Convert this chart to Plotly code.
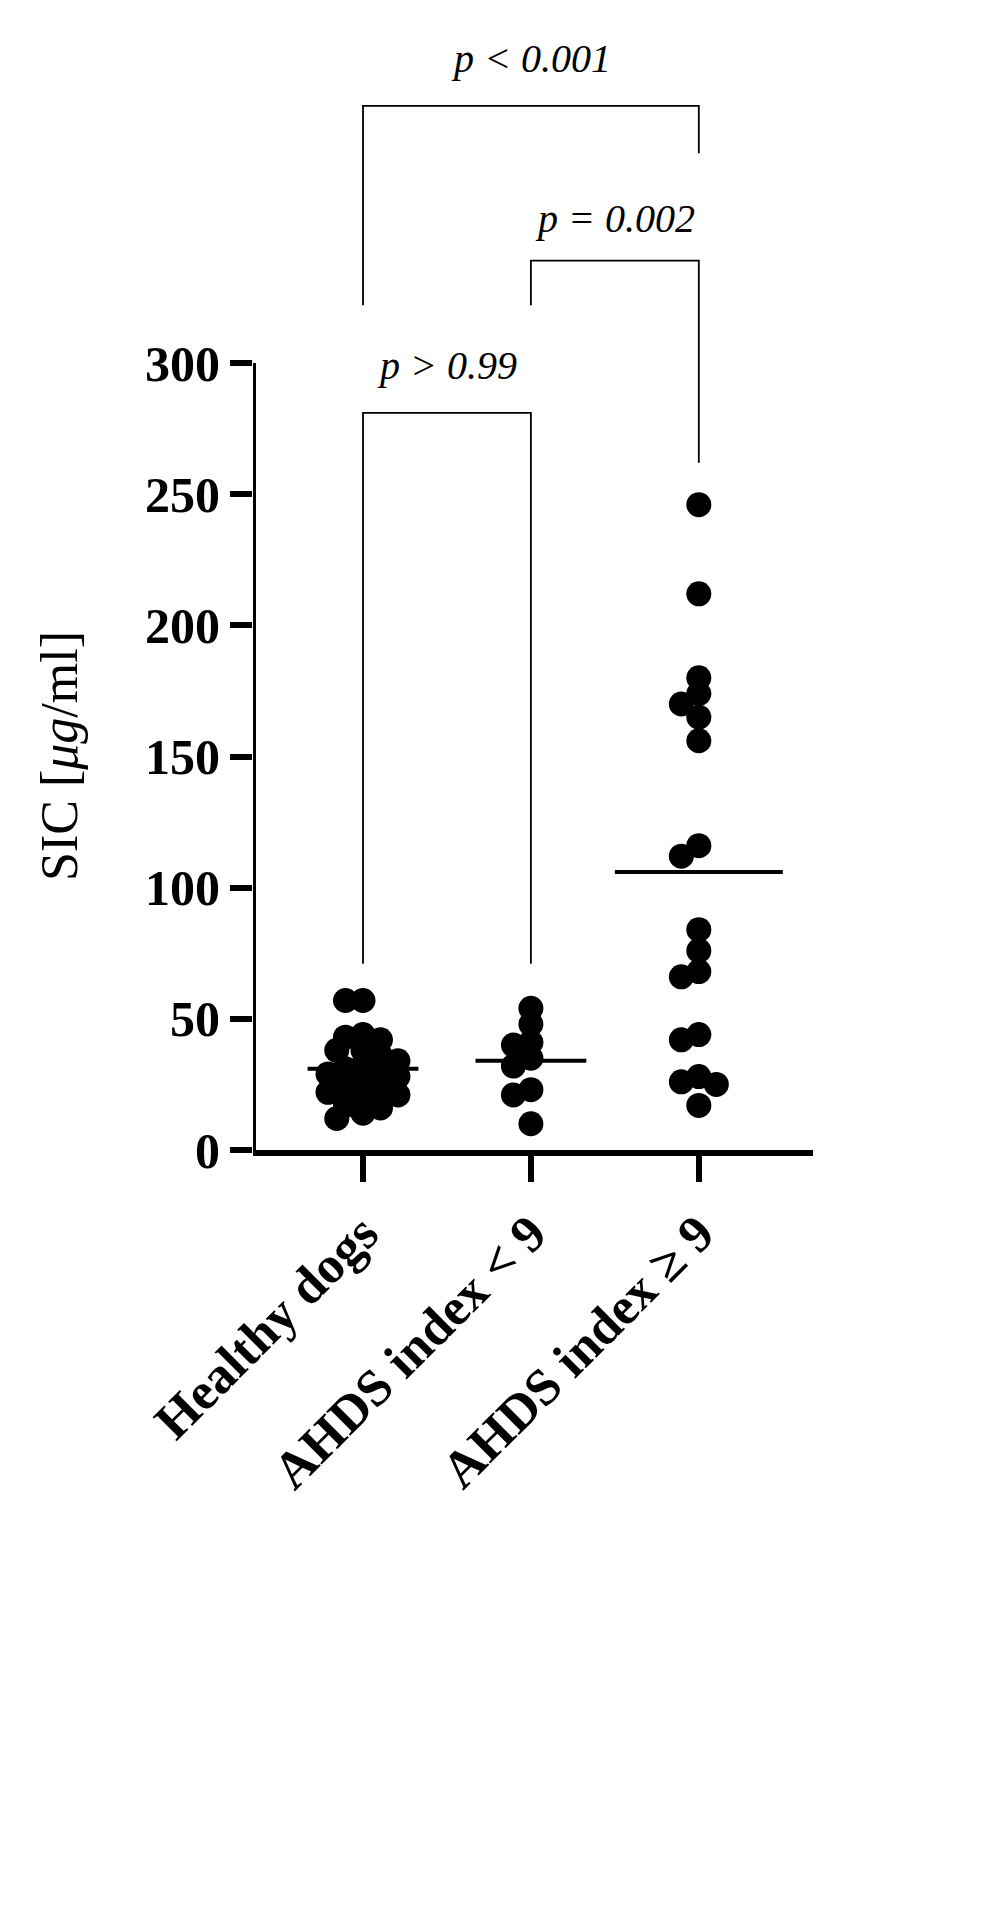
import plotly.graph_objects as go
import numpy as np

categories = ["Healthy dogs", "AHDS index < 9", "AHDS index ≥ 9"]
healthy = [57, 57, 44, 43, 42, 38, 38, 36, 34, 32, 31, 30, 29, 28, 27, 26, 25, 24, 22, 21, 20, 17, 16, 14, 12]
ahds_low = [54, 48, 41, 40, 35, 32, 23, 21, 10]
ahds_high = [246, 212, 180, 174, 170, 165, 156, 116, 112, 84, 76, 68, 66, 44, 42, 28, 26, 25, 17]
medians = [31, 34, 106]
groups = [healthy, ahds_low, ahds_high]
brackets = [  # (x0, x1, y_bar, y_leg0, y_leg1, label, y_label)
    (0, 1, 281, 71, 71, "p > 0.99", 299),
    (1, 2, 339, 322, 262, "p = 0.002", 355),
    (0, 2, 398, 322, 380, "p < 0.001", 416),
]

PXX, PXY, D = 168.0, 2.623, 25.0
MAXOFF = [0.33, 0.5, 0.55]

def swarm(vals, maxoff):
    placed = []
    for v in sorted(vals, key=lambda a: -a):
        best = None
        for k in range(0, 40):
            for s in ([0] if k == 0 else [-1, 1]):
                off = s * k * 0.35 * D
                if abs(off) / PXX > maxoff:
                    continue
                if all((off - px) ** 2 + ((v - pv) * PXY) ** 2 >= (0.6 * D) ** 2 for px, pv in placed):
                    best = off
                    break
            if best is not None:
                break
        placed.append((best if best is not None else 0, v))
    return placed

fig = go.Figure()
font = "Liberation Serif"
for i, g in enumerate(groups):
    pts = swarm(g, MAXOFF[i] * 0.85)
    fig.add_trace(go.Scatter(x=[i + p[0] / PXX for p in pts], y=[p[1] for p in pts], mode="markers",
                             marker=dict(size=25, color="black"), showlegend=False, cliponaxis=False))
    hw = [0.33, 0.33, 0.5][i]
    fig.add_shape(type="line", x0=i - hw, x1=i + hw, y0=medians[i], y1=medians[i], line=dict(color="black", width=4))

for x0, x1, yb, l0, l1, lab, yl in brackets:
    fig.add_shape(type="path", path=f"M {x0},{l0} L {x0},{yb} L {x1},{yb} L {x1},{l1}",
                  line=dict(color="black", width=1.8))
    fig.add_annotation(x=(x0 + x1) / 2, y=yl, text=f"<i>{lab}</i>", showarrow=False,
                       font=dict(family=font, size=40, color="black"))

fig.add_shape(type="line", x0=-0.655, x1=-0.655, y0=-1.5, y1=300, line=dict(color="black", width=6))

fig.update_layout(
    width=1002, height=1908, plot_bgcolor="white", paper_bgcolor="white",
    margin=dict(l=245, r=197, t=20, b=766),
    xaxis=dict(range=[-0.655, 2.68], tickvals=[0, 1, 2], ticktext=[f"<b>{c}</b>" for c in categories],
               tickangle=-45, ticks="outside", ticklen=26, tickwidth=6, tickcolor="black",
               showline=True, linewidth=6, linecolor="black", showgrid=False, zeroline=False,
               tickfont=dict(family=font, size=52, color="black")),
    yaxis=dict(range=[0, 427.7], tickvals=[0, 50, 100, 150, 200, 250, 300], ticks="outside", ticklen=22,
               tickwidth=6, tickcolor="black", showline=False, showgrid=False, zeroline=False,
               tickfont=dict(family=font, size=50, color="black"),
               ticktext=[f"<b>{v}</b>" for v in [0, 50, 100, 150, 200, 250, 300]]),
)
fig.add_annotation(xref="paper", yref="y", x=-0.4, y=150, text="SIC [<i>μg</i>/ml]", textangle=-90,
                   showarrow=False, font=dict(family=font, size=52, color="black"))
fig.write_html("out.html")
